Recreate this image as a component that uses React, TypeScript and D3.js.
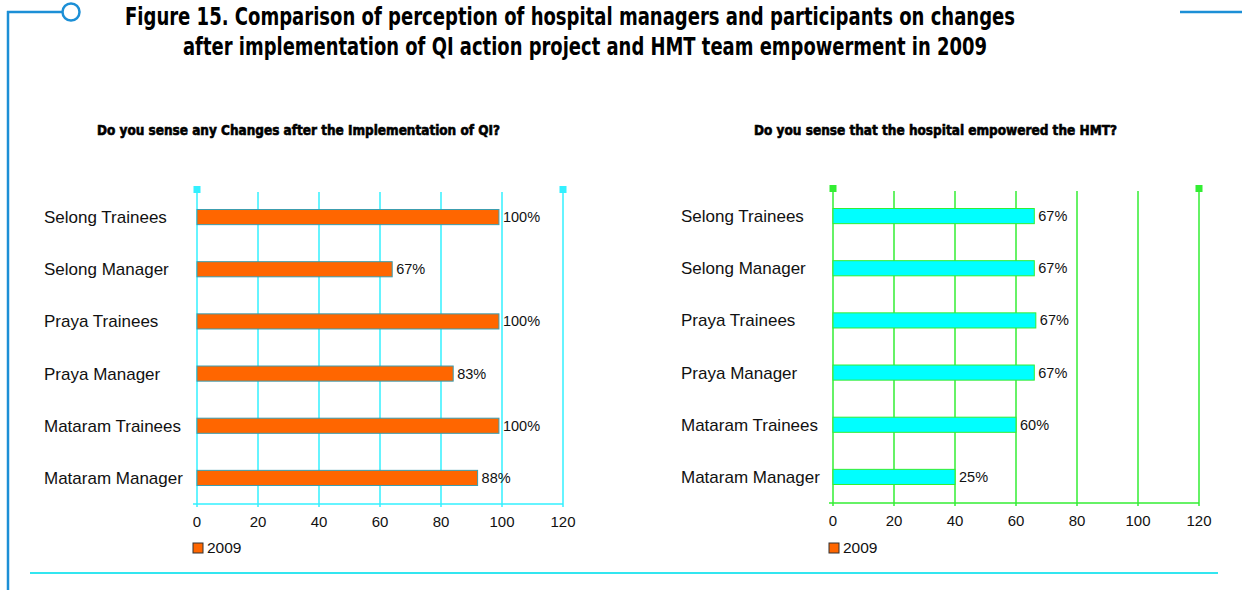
import { scaleBand, scaleLinear } from "d3";

const categories = [
  "Selong Trainees",
  "Selong Manager",
  "Praya Trainees",
  "Praya Manager",
  "Mataram Trainees",
  "Mataram Manager",
];

// bar lengths as drawn, and the labels printed beside them
const changesValues = [99, 64, 99, 84, 99, 92];
const changesLabels = ["100%", "67%", "100%", "83%", "100%", "88%"];
const empowerValues = [66, 66, 66.5, 66, 60, 40];
const empowerLabels = ["67%", "67%", "67%", "67%", "60%", "25%"];
const xTicks = [0, 20, 40, 60, 80, 100, 120];
const seriesName = "2009";

const TITLE_FONT = "'Liberation Sans Narrow', 'DejaVu Sans Condensed', Arial, sans-serif";
const BODY_FONT = "'Liberation Sans', Arial, sans-serif";
const FRAME = "#1c8fd6";

const Panel = ({
  x0,
  x1,
  y0,
  y1,
  title,
  titleCenter,
  titleWidth,
  labelX,
  values,
  labels,
  grid,
  barFill,
  barStroke,
}: any) => {
  const x = scaleLinear().domain([0, 120]).range([x0, x1]);
  const y = scaleBand<string>()
    .domain(categories)
    .range([y0, y1])
    .paddingInner(0.71)
    .paddingOuter(0.355);
  const axisY = y1;

  return (
    <g>
      <text
        x={titleCenter}
        y={135}
        textAnchor="middle"
        fontFamily={TITLE_FONT}
        fontWeight="bold"
        fontSize={14}
        stroke="#000"
        strokeWidth={0.6}
        textLength={titleWidth}
        lengthAdjust="spacingAndGlyphs"
      >
        {title}
      </text>
      {xTicks.map((t) => (
        <line
          key={t}
          x1={x(t)}
          x2={x(t)}
          y1={t === 0 || t === 120 ? y0 - 3 : y0 + 1}
          y2={axisY + 3}
          stroke={grid}
          strokeWidth={1.5}
        />
      ))}
      {[0, 120].map((t) => (
        <rect key={t} x={x(t) - 3.5} y={y0 - 5} width={7} height={7} fill={grid} />
      ))}
      <line x1={x0 - 4} x2={x1} y1={axisY} y2={axisY} stroke={grid} strokeWidth={1.5} />
      {categories.map((c, i) => (
        <g key={c}>
          <text
            x={labelX}
            y={(y(c) ?? 0) + y.bandwidth() / 2}
            dy="0.35em"
            fontFamily={BODY_FONT}
            fontSize={17}
            fill="#111"
          >
            {c}
          </text>
          <rect
            x={x(0)}
            y={y(c)}
            width={x(values[i]) - x(0)}
            height={y.bandwidth()}
            fill={barFill}
            stroke={barStroke}
            strokeWidth={1}
          />
          <text
            x={x(values[i]) + 4}
            y={(y(c) ?? 0) + y.bandwidth() / 2}
            dy="0.35em"
            fontFamily={BODY_FONT}
            fontSize={14.5}
            fill="#111"
          >
            {labels[i]}
          </text>
        </g>
      ))}
      {xTicks.map((t) => (
        <text
          key={t}
          x={x(t)}
          y={axisY + 18}
          dy="0.35em"
          textAnchor="middle"
          fontFamily={BODY_FONT}
          fontSize={15}
          fill="#111"
        >
          {t}
        </text>
      ))}
      <rect x={x0 - 4} y={543} width={10} height={10} fill="#ff6600" stroke="#333" strokeWidth={1} />
      <text x={x0 + 10} y={548} dy="0.35em" fontFamily={BODY_FONT} fontSize={15.5} fill="#111">
        {seriesName}
      </text>
    </g>
  );
};

export default function App() {
  return (
    <svg width={1242} height={590} style={{ position: "absolute", left: 0, top: 0, background: "#fff" }}>
      {/* frame decoration */}
      <line x1={8} x2={8} y1={11} y2={590} stroke={FRAME} strokeWidth={2.5} />
      <line x1={7} x2={62} y1={12} y2={12} stroke={FRAME} strokeWidth={2.5} />
      <circle cx={71} cy={12} r={8.5} fill="#fff" stroke={FRAME} strokeWidth={2.5} />
      <line x1={1180} x2={1242} y1={12} y2={12} stroke={FRAME} strokeWidth={2.5} />
      <line x1={30} x2={1218} y1={573} y2={573} stroke="#33e6f0" strokeWidth={2} />

      <text
        x={570}
        y={25}
        textAnchor="middle"
        fontFamily={TITLE_FONT}
        fontWeight="bold"
        fontSize={25}
        textLength={890}
        lengthAdjust="spacingAndGlyphs"
      >
        Figure 15. Comparison of perception of hospital managers and participants on changes
      </text>
      <text
        x={585}
        y={55}
        textAnchor="middle"
        fontFamily={TITLE_FONT}
        fontWeight="bold"
        fontSize={25}
        textLength={804}
        lengthAdjust="spacingAndGlyphs"
      >
        after implementation of QI action project and HMT team empowerment in 2009
      </text>

      <Panel
        x0={197}
        x1={563}
        y0={191}
        y1={504}
        title="Do you sense any Changes after the Implementation of QI?"
        titleCenter={298.5}
        titleWidth={403}
        labelX={44}
        values={changesValues}
        labels={changesLabels}
        grid="#33f0ff"
        barFill="#ff6600"
        barStroke="#3a9db0"
      />
      <Panel
        x0={833}
        x1={1199}
        y0={190}
        y1={503}
        title="Do you sense that the hospital empowered the HMT?"
        titleCenter={935.5}
        titleWidth={363}
        labelX={681}
        values={empowerValues}
        labels={empowerLabels}
        grid="#33ee33"
        barFill="#00ffff"
        barStroke="#33ee33"
      />
    </svg>
  );
}
